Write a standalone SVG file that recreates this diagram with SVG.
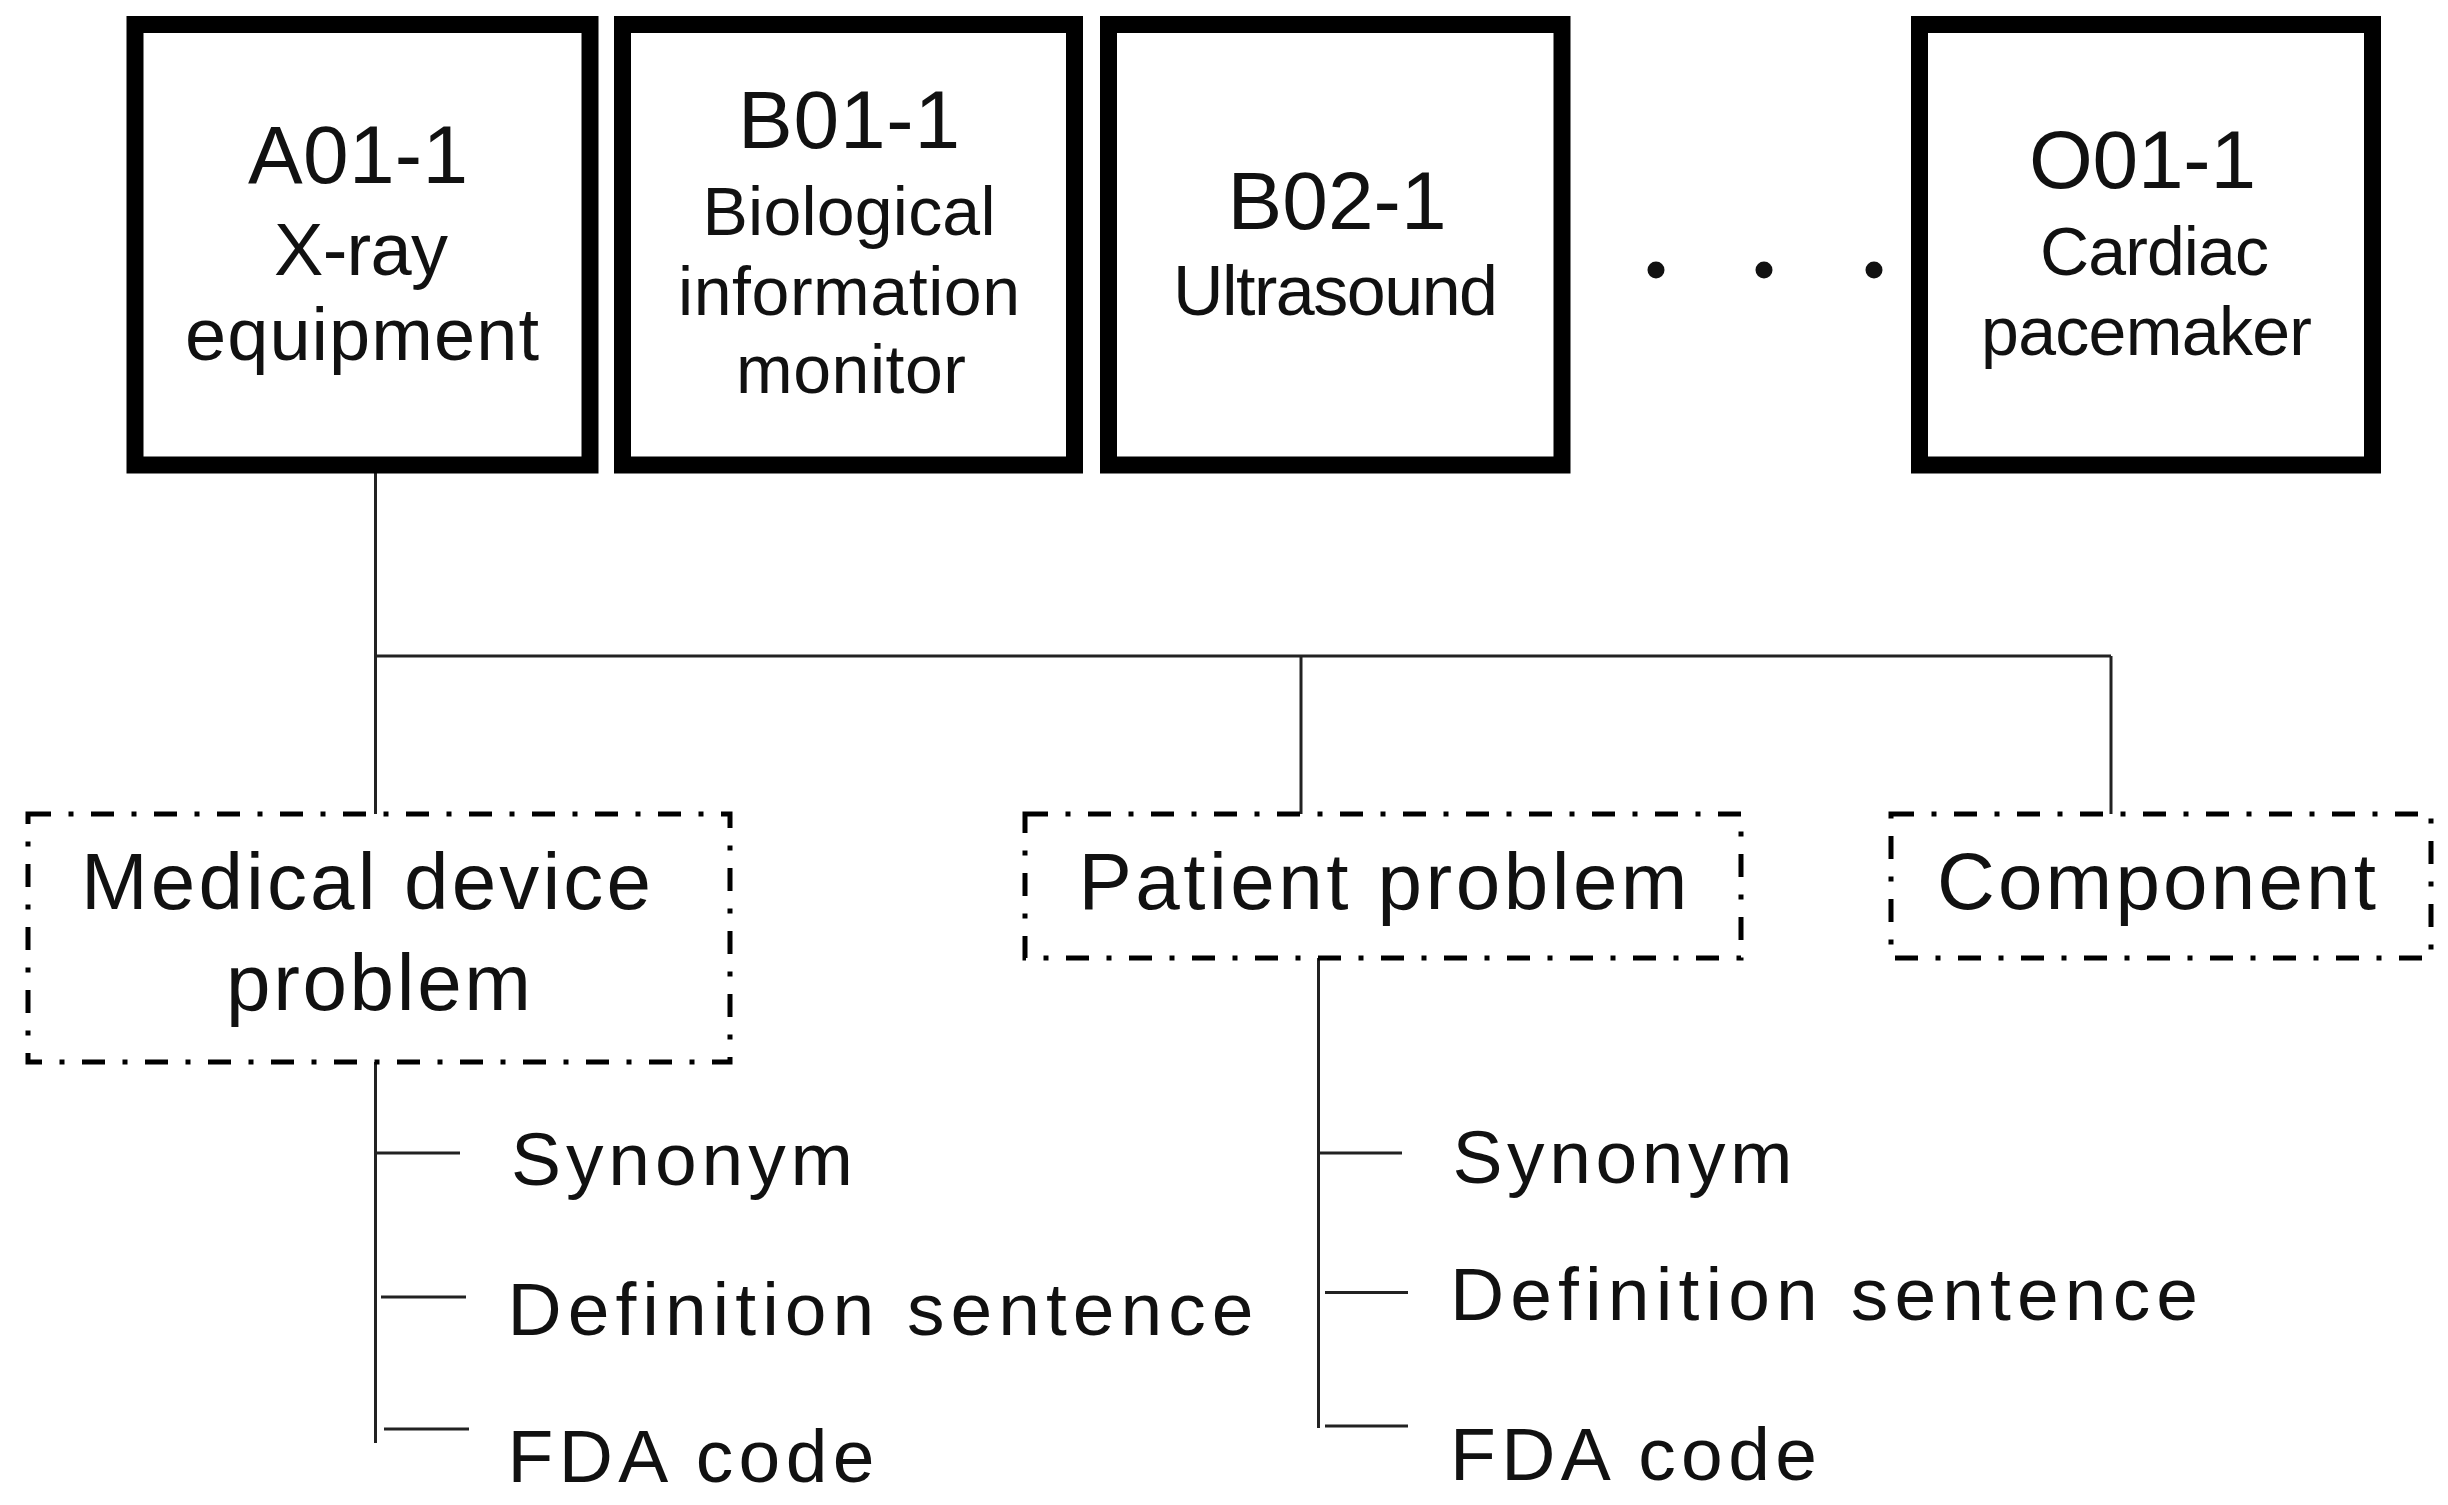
<svg xmlns="http://www.w3.org/2000/svg" width="2448" height="1505" viewBox="0 0 2448 1505">
<style>
text{font-family:"Liberation Sans","Noto Sans",sans-serif;fill:#111}
.box{fill:#fff;stroke:#000;stroke-width:17}
.dbox{fill:none;stroke:#000;stroke-width:5;stroke-dasharray:23 17.5 5 17.5}
.ln{stroke:#222;stroke-width:3;fill:none}
.code{font-size:82px;text-anchor:middle}
.nm{font-size:68px;text-anchor:middle}
.lbl{font-size:80px}
.item{font-size:75px}
</style>
<rect width="2448" height="1505" fill="#fff"/>
<g id="connectors">
<path class="ln" d="M375.5 473V814M375.5 656H2111M1301 656V814M2111 656V814"/>
<path class="ln" d="M375.5 1062V1443M376 1153H460M381 1297H466M384 1429H469"/>
<path class="ln" d="M1318.5 958V1428M1318.5 1153H1402M1325 1292.5H1408M1325 1426H1408"/>
</g>
<g id="nodeA01">
<rect class="box" x="135" y="24.5" width="455" height="440.5"/>
<text class="code" x="358" y="182.7" textLength="220" lengthAdjust="spacing">A01-1</text>
<text class="nm" x="361" y="275" style="font-size:74px" textLength="174" lengthAdjust="spacing">X-ray</text>
<text class="nm" x="362" y="360" style="font-size:74px" textLength="354" lengthAdjust="spacing">equipment</text>
</g>
<g id="nodeB01">
<rect class="box" x="622.5" y="24.5" width="452" height="440.5"/>
<text class="code" x="849" y="148.3" textLength="222" lengthAdjust="spacing">B01-1</text>
<text class="nm" x="849" y="235" textLength="293" lengthAdjust="spacing">Biological</text>
<text class="nm" x="849" y="315" textLength="342" lengthAdjust="spacing">information</text>
<text class="nm" x="851" y="393" textLength="230" lengthAdjust="spacing">monitor</text>
</g>
<g id="nodeB02">
<rect class="box" x="1108.5" y="24.5" width="453.5" height="440.5"/>
<text class="code" x="1337" y="229.3" textLength="219" lengthAdjust="spacing">B02-1</text>
<text class="nm" x="1335.5" y="315" style="font-size:70px" textLength="325" lengthAdjust="spacing">Ultrasound</text>
</g>
<g id="ellipsis">
<circle cx="1656" cy="270" r="8.5" fill="#111"/>
<circle cx="1764" cy="270" r="8.5" fill="#111"/>
<circle cx="1874" cy="270" r="8.5" fill="#111"/>
</g>
<g id="nodeO01">
<rect class="box" x="1919.5" y="24.5" width="453" height="440.5"/>
<text class="code" x="2142.5" y="188" textLength="227" lengthAdjust="spacing">O01-1</text>
<text class="nm" x="2154.5" y="275" textLength="229" lengthAdjust="spacing">Cardiac</text>
<text class="nm" x="2146.5" y="355" textLength="331" lengthAdjust="spacing">pacemaker</text>
</g>
<g id="medicalDeviceProblem">
<rect class="dbox" x="28" y="814" width="702" height="248"/>
<text class="lbl" x="81" y="909" textLength="570" lengthAdjust="spacing">Medical device</text>
<text class="lbl" x="226" y="1010" textLength="305" lengthAdjust="spacing">problem</text>
</g>
<g id="patientProblem">
<rect class="dbox" x="1025" y="814" width="716" height="144"/>
<text class="lbl" x="1078.5" y="909" textLength="609" lengthAdjust="spacing">Patient problem</text>
</g>
<g id="component">
<rect class="dbox" x="1891" y="814" width="540" height="144"/>
<text class="lbl" x="1937" y="909" textLength="439" lengthAdjust="spacing">Component</text>
</g>
<g id="mdpItems">
<text class="item" x="511" y="1185" textLength="342" lengthAdjust="spacing">Synonym</text>
<text class="item" x="507.5" y="1335" textLength="746" lengthAdjust="spacing">Definition sentence</text>
<text class="item" x="507.5" y="1482" textLength="367" lengthAdjust="spacing">FDA code</text>
</g>
<g id="ppItems">
<text class="item" x="1452.5" y="1183" textLength="340" lengthAdjust="spacing">Synonym</text>
<text class="item" x="1450" y="1320" textLength="748" lengthAdjust="spacing">Definition sentence</text>
<text class="item" x="1450" y="1480" textLength="367" lengthAdjust="spacing">FDA code</text>
</g>
</svg>
